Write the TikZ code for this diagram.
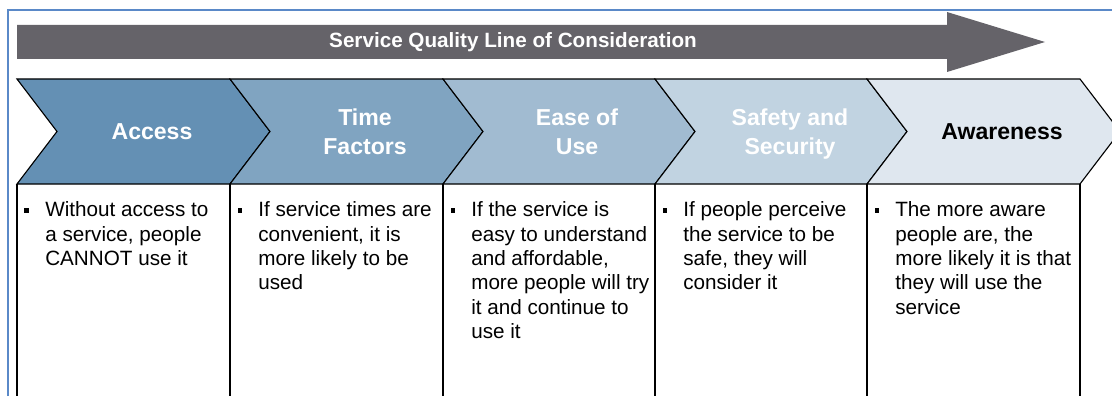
\documentclass[tikz,border=0pt]{standalone}
\usepackage{fontspec}
\setmainfont{Liberation Sans}
\usetikzlibrary{positioning}

\definecolor{barGrey}{HTML}{656369}
\definecolor{frameBlue}{HTML}{5A89C8}
\definecolor{accessFill}{HTML}{6490B4}
\definecolor{timeFill}{HTML}{80A4C1}
\definecolor{easeFill}{HTML}{A1BBD1}
\definecolor{safetyFill}{HTML}{C1D3E1}
\definecolor{awareFill}{HTML}{DFE7EF}

\begin{document}
\begin{tikzpicture}[
    x=0.025cm, y=0.025cm,
    chev/.style={draw=black, line width=0.8pt, line join=miter},
    hdr/.style={align=center, text=white, inner sep=0pt,
                font=\fontsize{16.4}{20.6}\selectfont\bfseries},
    txt/.style={anchor=north west, align=left, inner sep=0pt,
                font=\fontsize{14.7}{17.3}\selectfont},
    dot/.style={fill=black, inner sep=0pt, minimum size=0.1cm}
  ]
    \useasboundingbox (0,0) rectangle (1112,396);

    % outer frame
    \draw[frameBlue, line width=1.4pt] (8,0) -- (8,386) -- (1112,386);

    % big arrow
    \fill[barGrey] (17,337) -- (17,371) -- (947,371) -- (947,384) -- (1045,354)
                   -- (947,324) -- (947,337) -- cycle;
    \node[font=\fontsize{14.7}{17}\selectfont\bfseries, text=white] (title) at (513,354)
         {Service Quality Line of Consideration};

    % chevrons
    \filldraw[chev, fill=accessFill] (17,317) -- (230,317) -- (270,264.5) -- (230,212)
             -- (17,212) -- (57,264.5) -- cycle;
    \filldraw[chev, fill=timeFill] (230,317) -- (443,317) -- (483,264.5) -- (443,212)
             -- (230,212) -- (270,264.5) -- cycle;
    \filldraw[chev, fill=easeFill] (443,317) -- (655,317) -- (695,264.5) -- (655,212)
             -- (443,212) -- (483,264.5) -- cycle;
    \filldraw[chev, fill=safetyFill] (655,317) -- (867,317) -- (907,264.5) -- (867,212)
             -- (655,212) -- (695,264.5) -- cycle;
    \filldraw[chev, fill=awareFill] (867,317) -- (1080,317) -- (1120,264.5) -- (1080,212)
             -- (867,212) -- (907,264.5) -- cycle;

    \node[hdr] (access) at (152,264.5) {Access};
    \node[hdr] (time) at (365,264.5) {Time\\Factors};
    \node[hdr] (ease) at (577,264.5) {Ease of\\Use};
    \node[hdr] (safety) at (790,261.5) {Safety and\\Security};
    \node[hdr, text=black] (aware) at (1002,264.5) {Awareness};

    % columns below
    \draw[line width=0.8pt] (17,212) -- (17,0) (230,212) -- (230,0) (443,212) -- (443,0)
          (655,212) -- (655,0) (867,212) -- (867,0) (1080,212) -- (1080,0);

    \node[txt] (accessTxt) at (45,194.5) {Without access to\\a service, people\\CANNOT use it};
    \node[txt] (timeTxt) at (258,194.5) {If service times are\\convenient, it is\\more likely to be\\used};
    \node[txt] (easeTxt) at (471,194.5) {If the service is\\easy to understand\\and affordable,\\more people will try\\it and continue to\\use it};
    \node[txt] (safetyTxt) at (683,194.5) {If people perceive\\the service to be\\safe, they will\\consider it};
    \node[txt] (awareTxt) at (895,194.5) {The more aware\\people are, the\\more likely it is that\\they will use the\\service};

    \node[dot] (accessDot) at (26.5,185.5) {};
    \node[dot] (timeDot) at (239.5,185.5) {};
    \node[dot] (easeDot) at (452.5,185.5) {};
    \node[dot] (safetyDot) at (664.5,185.5) {};
    \node[dot] (awareDot) at (876.5,185.5) {};
\end{tikzpicture}
\end{document}
